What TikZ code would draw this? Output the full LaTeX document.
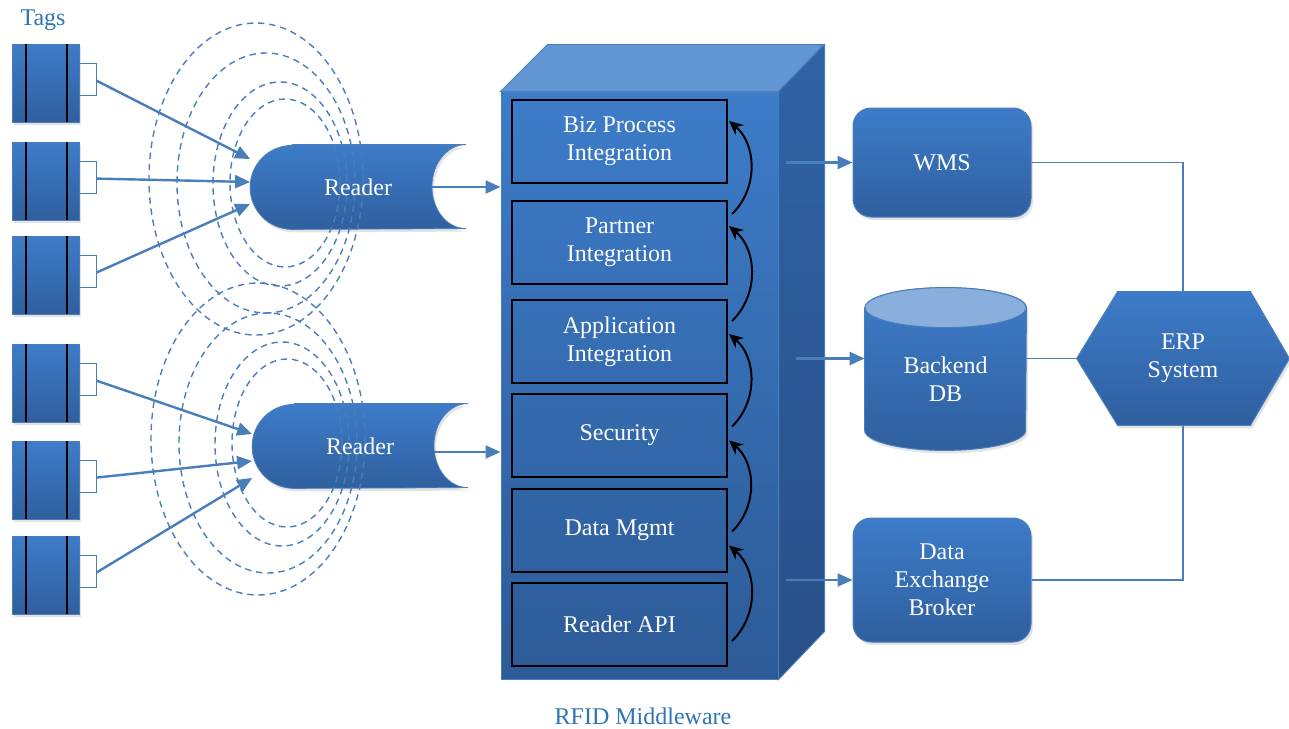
\documentclass[tikz,border=0pt]{standalone}
\usepackage{fontspec}
\setmainfont{Liberation Serif}
\usetikzlibrary{arrows.meta,calc,backgrounds,shadows}

\definecolor{linkblue}{HTML}{4A7EBB}
\definecolor{boxtop}{HTML}{3D7CC9}
\definecolor{boxbot}{HTML}{2F5F9E}
\definecolor{cubetop}{HTML}{6296D4}
\definecolor{sidetop}{HTML}{2F62A4}
\definecolor{sidebot}{HTML}{285089}
\definecolor{dbtop}{HTML}{8AAFDC}
\definecolor{titleblue}{HTML}{2E74B5}

\begin{document}
\begin{tikzpicture}[x=0.5pt, y=-0.5pt, font=\rmfamily\fontsize{12}{14}\selectfont,
    grad/.style = {top color=boxtop, bottom color=boxbot},
    shadowed/.style = {drop shadow={opacity=0.22, shadow xshift=1pt, shadow yshift=-1.5pt}},
    tag/.style = {grad, shadowed, draw=linkblue, line width=0.4pt, minimum width=33.5pt, minimum height=39pt, inner sep=0pt},
    reader/.style = {minimum width=107.5pt, minimum height=42pt, text=white},
    tier/.style = {draw=black, line width=1pt, minimum width=107.5pt, minimum height=41.5pt, align=center, text=white},
    app/.style = {rounded corners=9pt, grad, shadowed, draw=linkblue, line width=0.5pt, minimum width=89pt, align=center, text=white},
    link/.style = {draw=linkblue, line width=0.75pt},
    flow/.style = {linkblue, line width=1.2pt, -{Triangle[length=7.5pt,width=6.5pt]}},
    stackflow/.style = {black, line width=1pt, -{Stealth[length=7pt,width=6.5pt]}},
    field/.style = {linkblue, dash pattern=on 3.2pt off 2.4pt, line width=0.7pt}]
\useasboundingbox (0,0) rectangle (1289,728);

% reading fields round the two readers
\foreach \cx/\cy/\rx/\ry in {256/179/107/156, 266/183/89/130, 280/184/67/102, 285/183/55/84}{
    \draw[field] (\cx,\cy) ellipse [x radius=\rx, y radius=\ry];
    \draw[field] (\cx+2,\cy+260) ellipse [x radius=\rx, y radius=\ry];
}

% tags
\node[text=titleblue] (tagstitle) at (43,20) {Tags};
\foreach \t [count=\i] in {44,142,236,344,441,536}{
    \node[tag] (tag\i) at (45.5,\t+39) {};
    \draw[black, line width=1pt] ([xshift=7pt]tag\i.north west) -- ([xshift=7pt]tag\i.south west);
    \draw[black, line width=1pt] ([xshift=-6pt]tag\i.north east) -- ([xshift=-6pt]tag\i.south east);
    \draw[linkblue, line width=0.6pt] ($(tag\i.north east)+(0,20)$) -- ++(17,0) -- ++(0,32) -- ++(-17,0);
}

% readers
\node[reader] (reader1) at (358,187) {Reader};
\node[reader] (reader2) at (360,446) {Reader};
\begin{scope}[on background layer]
  \foreach \r in {reader1,reader2}
    \shadedraw[grad, shadowed, draw=linkblue, line width=0.4pt] ($(\r.north west)+(42,0)$) -- (\r.north east)
        arc[start angle=90, end angle=270, x radius=17pt, y radius=21pt] -- ($(\r.south west)+(42,0)$)
        arc[start angle=270, end angle=90, radius=21pt] -- cycle;
\end{scope}

\foreach \i/\r/\dy in {1/1/-28, 2/1/-5, 3/1/17, 4/2/-12, 5/2/15, 6/2/32}
    \draw[flow] ($(tag\i.north east)+(17,37)$) -- ($(reader\r.west)+(0,\dy)$);

% middleware cube
\node[draw=linkblue, line width=0.5pt, top color=boxtop, bottom color=boxbot!95!black,
      minimum width=138.5pt, minimum height=293.5pt] (mw) at (639.5,385.5) {};
\filldraw[fill=cubetop, draw=linkblue, line width=0.5pt] (mw.north west) -- ++(47,-47) -- ++(276,0) -- (mw.north east) -- cycle;
\shadedraw[top color=sidetop, bottom color=sidebot, draw=linkblue, line width=0.5pt] (mw.north east) -- ++(46,-47) -- ++(0,587) -- (mw.south east) -- cycle;
\node[text=titleblue] (mwlabel) at (643,716) {RFID Middleware};

\node[tier] (biz) at (619.5,141.5) {Biz Process\\Integration};
\node[tier] (partner) at (619.5,242.5) {Partner\\Integration};
\node[tier] (appint) at (619.5,341.5) {Application\\Integration};
\node[tier] (security) at (619.5,435) {Security};
\node[tier] (datamgmt) at (619.5,530) {Data Mgmt};
\node[tier] (readerapi) at (619.5,624.5) {Reader API};

\foreach \lo/\hi/\a/\b in {partner/biz/-7/-11, appint/partner/-11/-13, security/appint/-17/-17.5, datamgmt/security/-22/-24, readerapi/datamgmt/-29.5/-29}
    \draw[stackflow] ([xshift=2pt,yshift=\a pt]\lo.north east) to[bend right=48] ([xshift=0.5pt,yshift=\b pt]\hi.north east);

% back end
\node[app, minimum height=54.5pt] (wms) at (942,162.5) {WMS};
\node[app, minimum height=62pt] (deb) at (942,580) {Data\\Exchange\\Broker};
\node[minimum width=80.5pt, minimum height=51pt, align=center, text=white] (db) at (945.5,379) {Backend\\DB};
\node[minimum width=106pt, minimum height=66.5pt, align=center, text=white] (erp) at (1183,358.5) {ERP\\System};

\begin{scope}[on background layer]
    \shadedraw[grad, shadowed, draw=linkblue, line width=0.5pt] ($(db.north west)+(0,-20)$) -- (db.south west)
        arc[start angle=180, end angle=360, x radius=40.25pt, y radius=10pt] -- ($(db.north east)+(0,-20)$)
        arc[start angle=0, end angle=180, x radius=40.25pt, y radius=10pt] -- cycle;
    \filldraw[fill=dbtop, draw=linkblue, line width=0.5pt] ($(db.north)+(0,-20)$) ellipse [x radius=40.25pt, y radius=10pt];
    \shadedraw[grad, shadowed, draw=linkblue, line width=0.5pt] (erp.west) -- ($(erp.north west)+(41,0)$) -- ($(erp.north east)+(-39,0)$)
        -- (erp.east) -- ($(erp.south east)+(-39,0)$) -- ($(erp.south west)+(41,0)$) -- cycle;
\end{scope}

\coordinate (mwout) at ([xshift=3.5pt]mw.east);
\coordinate (mwdb) at ([xshift=8.5pt]mw.east);
\draw[flow] ($(reader1.center)+(74,0)$) -- (reader1 -| mw.west);
\draw[flow] ($(reader2.center)+(74,6)$) -- ($(reader2 -| mw.west)+(0,6)$);
\draw[flow] (mwout |- wms) -- (wms);
\draw[flow] (mwdb |- erp) -- (db.west |- erp);
\draw[flow] (mwout |- deb) -- (deb);
\draw[link] (wms) -| (erp.north);
\draw[link] (db.east |- erp) -- (erp.west);
\draw[link] (deb) -| (erp.south);
\end{tikzpicture}
\end{document}
